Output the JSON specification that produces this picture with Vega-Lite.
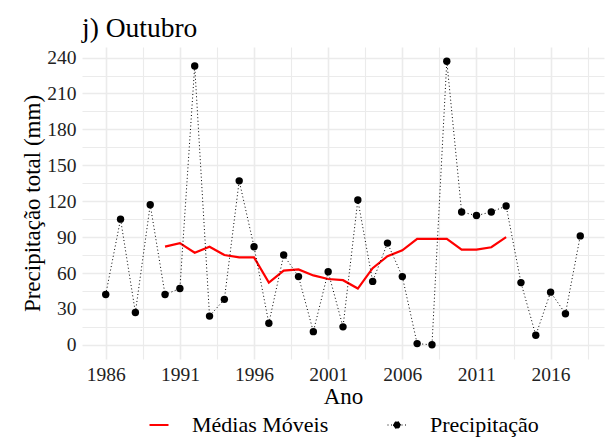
{
  "$schema": "https://vega.github.io/schema/vega-lite/v6.json",
  "width": 522,
  "height": 312,
  "autosize": {"type": "none"},
  "padding": {"left": 82, "top": 47, "right": 10, "bottom": 82},
  "background": "white",
  "title": {
    "text": "j) Outubro",
    "anchor": "start",
    "frame": "group",
    "font": "Liberation Serif",
    "fontSize": 27.5,
    "fontWeight": "normal",
    "color": "black",
    "baseline": "alphabetic",
    "offset": 10,
    "dy": 27
  },
  "data": {
    "values": [
      {"Ano": 1986, "Precipitacao": 42, "Media": null},
      {"Ano": 1987, "Precipitacao": 105, "Media": null},
      {"Ano": 1988, "Precipitacao": 27, "Media": null},
      {"Ano": 1989, "Precipitacao": 117, "Media": null},
      {"Ano": 1990, "Precipitacao": 42, "Media": 82},
      {"Ano": 1991, "Precipitacao": 47, "Media": 85},
      {"Ano": 1992, "Precipitacao": 233, "Media": 77},
      {"Ano": 1993, "Precipitacao": 24, "Media": 82},
      {"Ano": 1994, "Precipitacao": 38, "Media": 75},
      {"Ano": 1995, "Precipitacao": 137, "Media": 73},
      {"Ano": 1996, "Precipitacao": 82, "Media": 73},
      {"Ano": 1997, "Precipitacao": 18, "Media": 52},
      {"Ano": 1998, "Precipitacao": 75, "Media": 62},
      {"Ano": 1999, "Precipitacao": 57, "Media": 63},
      {"Ano": 2000, "Precipitacao": 11, "Media": 58},
      {"Ano": 2001, "Precipitacao": 61, "Media": 55},
      {"Ano": 2002, "Precipitacao": 15, "Media": 54},
      {"Ano": 2003, "Precipitacao": 121, "Media": 47},
      {"Ano": 2004, "Precipitacao": 53, "Media": 64},
      {"Ano": 2005, "Precipitacao": 85, "Media": 74},
      {"Ano": 2006, "Precipitacao": 57, "Media": 79},
      {"Ano": 2007, "Precipitacao": 1, "Media": 88.5},
      {"Ano": 2008, "Precipitacao": 0, "Media": 88.5},
      {"Ano": 2009, "Precipitacao": 237, "Media": 88.5},
      {"Ano": 2010, "Precipitacao": 111, "Media": 79.5},
      {"Ano": 2011, "Precipitacao": 108, "Media": 79.5},
      {"Ano": 2012, "Precipitacao": 111, "Media": 81.5},
      {"Ano": 2013, "Precipitacao": 116, "Media": 90},
      {"Ano": 2014, "Precipitacao": 52, "Media": null},
      {"Ano": 2015, "Precipitacao": 8, "Media": null},
      {"Ano": 2016, "Precipitacao": 44, "Media": null},
      {"Ano": 2017, "Precipitacao": 26, "Media": null},
      {"Ano": 2018, "Precipitacao": 91, "Media": null}
    ]
  },
  "encoding": {
    "x": {
      "field": "Ano",
      "type": "quantitative",
      "scale": {"domain": [1984.4, 2019.6], "nice": false, "zero": false},
      "axis": {
        "title": "Ano",
        "values": [1986, 1988.5, 1991, 1993.5, 1996, 1998.5, 2001, 2003.5, 2006, 2008.5, 2011, 2013.5, 2016, 2018.5],
        "format": "d",
        "labelOverlap": false,
        "labelExpr": "datum.value % 5 == 1 ? datum.label : ''",
        "gridWidth": {"condition": {"test": "datum.value % 5 == 1", "value": 1.6}, "value": 1.1}
      }
    }
  },
  "layer": [
    {
      "transform": [{"filter": "isValid(datum.Media)"}],
      "mark": {"type": "line", "strokeWidth": 2.2},
      "encoding": {
        "y": {
          "field": "Media",
          "type": "quantitative",
          "scale": {"domain": [-11.85, 248.85], "nice": false, "zero": false},
          "axis": {
            "title": "Precipitação total (mm)",
            "values": [0, 15, 30, 45, 60, 75, 90, 105, 120, 135, 150, 165, 180, 195, 210, 225, 240],
            "labelOverlap": false,
            "labelExpr": "datum.value % 30 == 0 ? datum.label : ''",
            "gridWidth": {"condition": {"test": "datum.value % 30 == 0", "value": 1.6}, "value": 1.1}
          }
        },
        "color": {
          "datum": "Médias Móveis",
          "type": "nominal",
          "scale": {"domain": ["Médias Móveis", "Precipitação"], "range": ["#FF0000", "#000000"]},
          "legend": {
            "title": null,
            "orient": "bottom",
            "direction": "horizontal",
            "labelFont": "Liberation Serif",
            "labelFontSize": 22,
            "labelColor": "black",
            "symbolSize": 361,
            "labelOffset": 22,
            "columnPadding": 56,
            "offset": 5,
            "encode": {
              "symbols": {
                "update": {
                  "shape": {"signal": "datum.value === 'Precipitação' ? 'M-1,0H1M-0.37,0A0.37,0.37 0 1 0 0.37,0A0.37,0.37 0 1 0 -0.37,0Z' : 'M-1,0H1'"},
                  "strokeDash": {"signal": "datum.value === 'Precipitação' ? [1, 2.5] : [1, 0]"},
                  "strokeWidth": {"signal": "datum.value === 'Precipitação' ? 1 : 2.2"},
                  "fill": {"signal": "datum.value === 'Precipitação' ? '#000000' : 'transparent'"},
                  "stroke": {"signal": "datum.value === 'Precipitação' ? '#000000' : '#FF0000'"},
                  "opacity": {"value": 1}
                }
              }
            }
          }
        }
      }
    },
    {
      "mark": {"type": "line", "strokeWidth": 1, "strokeDash": [1, 2.5]},
      "encoding": {
        "y": {
          "field": "Precipitacao",
          "type": "quantitative",
          "axis": {
            "title": "Precipitação total (mm)",
            "values": [0, 15, 30, 45, 60, 75, 90, 105, 120, 135, 150, 165, 180, 195, 210, 225, 240],
            "labelOverlap": false,
            "labelExpr": "datum.value % 30 == 0 ? datum.label : ''",
            "gridWidth": {"condition": {"test": "datum.value % 30 == 0", "value": 1.6}, "value": 1.1}
          }
        },
        "color": {"datum": "Precipitação", "type": "nominal"}
      }
    },
    {
      "mark": {"type": "point", "filled": true, "size": 55, "opacity": 1},
      "encoding": {
        "y": {
          "field": "Precipitacao",
          "type": "quantitative",
          "axis": {
            "title": "Precipitação total (mm)",
            "values": [0, 15, 30, 45, 60, 75, 90, 105, 120, 135, 150, 165, 180, 195, 210, 225, 240],
            "labelOverlap": false,
            "labelExpr": "datum.value % 30 == 0 ? datum.label : ''",
            "gridWidth": {"condition": {"test": "datum.value % 30 == 0", "value": 1.6}, "value": 1.1}
          }
        },
        "color": {"datum": "Precipitação", "type": "nominal"}
      }
    }
  ],
  "config": {
    "view": {"stroke": null},
    "font": "Liberation Serif",
    "legend": {
      "labelFont": "Liberation Serif",
      "labelFontSize": 22,
      "layout": {"bottom": {"anchor": "middle"}}
    },
    "axis": {
      "domain": false,
      "ticks": false,
      "gridColor": "#EBEBEB",
      "labelFont": "Liberation Serif",
      "labelFontSize": 19.5,
      "labelColor": "#222222",
      "labelPadding": 6,
      "titleFont": "Liberation Serif",
      "titleFontSize": 23,
      "titleFontWeight": "normal",
      "titleColor": "black",
      "labelOverlap": false
    },
    "axisX": {"titlePadding": 2},
    "axisY": {"titlePadding": 2}
  }
}
